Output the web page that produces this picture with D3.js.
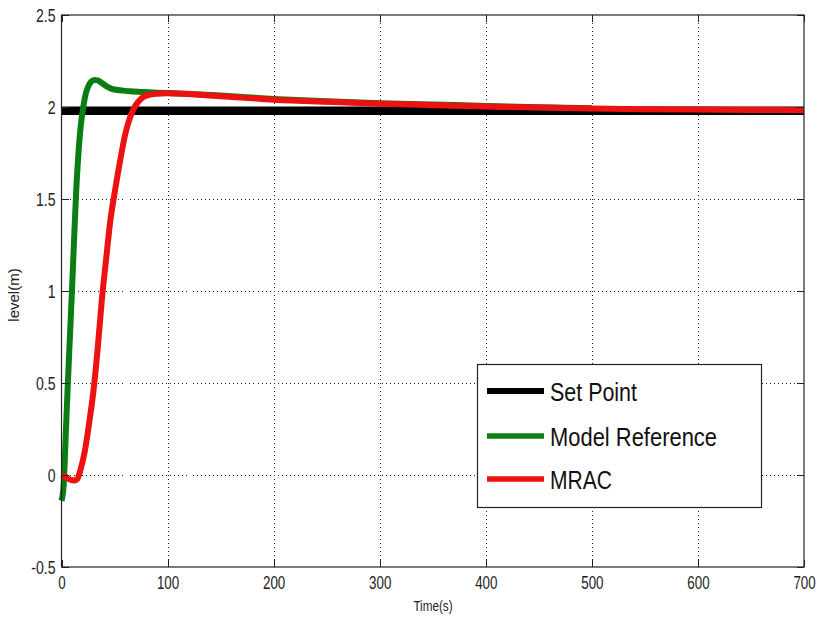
<!DOCTYPE html>
<html>
<head>
<meta charset="utf-8">
<script src="https://cdn.jsdelivr.net/npm/d3@7"></script>
<style>
  html, body { margin: 0; padding: 0; background: #fff; }
  svg { display: block; font-family: "Liberation Sans", Arial, sans-serif; }
</style>
</head>
<body>
<svg id="chart" width="821" height="618"></svg>
<script>
// Time axis (s) and measured levels (m)
const setPointTime = [0, 700];
const setPointLevel = [1.98, 1.98];

const modelTime = [0, 2, 4, 6, 8, 10, 12, 14, 16, 18, 20, 22, 25, 28, 31, 34, 37, 40, 45, 50, 57, 65, 75, 90, 100, 150, 200, 250, 300, 350, 400, 450, 500];
const modelLevel = [-0.14, -0.06, 0.22, 0.5, 0.76, 1.02, 1.3, 1.56, 1.75, 1.89, 1.98, 2.05, 2.11, 2.138, 2.147, 2.145, 2.135, 2.122, 2.105, 2.095, 2.09, 2.085, 2.082, 2.078, 2.076, 2.062, 2.044, 2.031, 2.021, 2.013, 2.006, 1.999, 1.993];

const mracTime = [0, 4, 8, 12, 15, 18, 22, 26, 30, 34, 38, 42, 46, 50, 55, 60, 65, 70, 75, 80, 90, 100, 150, 200, 250, 300, 350, 400, 450, 500, 550, 600, 650, 700];
const mracLevel = [0, -0.01, -0.025, -0.03, -0.02, 0.03, 0.13, 0.28, 0.45, 0.68, 0.95, 1.17, 1.38, 1.53, 1.7, 1.85, 1.95, 2.01, 2.045, 2.062, 2.072, 2.075, 2.058, 2.04, 2.028, 2.018, 2.01, 2.003, 1.997, 1.992, 1.988, 1.986, 1.984, 1.983];

const xTicks = [0, 100, 200, 300, 400, 500, 600, 700];
const yTicks = [-0.5, 0, 0.5, 1, 1.5, 2, 2.5];
const xGrid = [100, 200, 300, 400, 500, 600];
const yGrid = [0, 0.5, 1, 1.5, 2];

const seriesNames = ["Set Point", "Model Reference", "MRAC"];
const seriesColors = ["#000000", "#0b7d12", "#ee1111"];

const svg = d3.select("#chart");
const plotLeft = 61.5, plotTop = 15, plotRight = 804, plotBottom = 567;

const x = d3.scaleLinear().domain([0, 700]).range([plotLeft, plotRight]);
const y = d3.scaleLinear().domain([-0.5, 2.5]).range([plotBottom, plotTop]);

// dotted grid
const grid = svg.append("g").attr("stroke", "#222").attr("stroke-width", 1)
  .attr("stroke-dasharray", "1,3").attr("shape-rendering", "crispEdges");
grid.selectAll(".gx").data(xGrid).join("line")
  .attr("x1", d => Math.round(x(d)) + 0.5).attr("x2", d => Math.round(x(d)) + 0.5)
  .attr("y1", plotTop).attr("y2", plotBottom);
grid.selectAll(".gy").data(yGrid).join("line")
  .attr("y1", d => Math.round(y(d)) + 0.5).attr("y2", d => Math.round(y(d)) + 0.5)
  .attr("x1", plotLeft).attr("x2", plotRight);

// series lines
const line = d3.line().x(d => x(d[0])).y(d => y(d[1])).curve(d3.curveMonotoneX);
const series = [
  { t: setPointTime, v: setPointLevel, w: 8.5 },
  { t: modelTime, v: modelLevel, w: 6 },
  { t: mracTime, v: mracLevel, w: 6 }
];
const plot = svg.append("g");
series.forEach((s, i) => {
  plot.append("path")
    .datum(d3.zip(s.t, s.v))
    .attr("fill", "none")
    .attr("stroke", seriesColors[i])
    .attr("stroke-width", s.w)
    .attr("stroke-linejoin", "round")
    .attr("d", line);
});

// axes with inward ticks on all four sides
function styleAxis(g) {
  g.select(".domain").remove();
  g.selectAll(".tick line").attr("stroke", "#222").attr("shape-rendering", "crispEdges");
}
const axB = svg.append("g").attr("transform", `translate(0,${plotBottom})`)
  .call(d3.axisBottom(x).tickValues(xTicks).tickSize(-7).tickPadding(9).tickFormat(d3.format("d")));
const axL = svg.append("g").attr("transform", `translate(${plotLeft},0)`)
  .call(d3.axisLeft(y).tickValues(yTicks).tickSize(-7).tickPadding(6).tickFormat(d => String(d)));
const axT = svg.append("g").attr("transform", `translate(0,${plotTop})`)
  .call(d3.axisTop(x).tickValues(xTicks).tickSize(-7).tickFormat(""));
const axR = svg.append("g").attr("transform", `translate(${plotRight},0)`)
  .call(d3.axisRight(y).tickValues(yTicks).tickSize(-7).tickFormat(""));
[axB, axL, axT, axR].forEach(styleAxis);

// plot box
svg.append("rect")
  .attr("x", plotLeft).attr("y", plotTop).attr("width", plotRight - plotLeft).attr("height", plotBottom - plotTop)
  .attr("fill", "none").attr("stroke", "#222").attr("stroke-width", 1.2);

function condense(sel, ratio) {
  sel.each(function () {
    const w = this.getComputedTextLength();
    d3.select(this).attr("textLength", w * ratio).attr("lengthAdjust", "spacingAndGlyphs");
  });
}

axB.selectAll(".tick text").attr("font-size", 18).attr("fill", "#222")
  .attr("font-family", "Liberation Sans, Arial, sans-serif").attr("dy", "0.72em");
axL.selectAll(".tick text").attr("font-size", 18).attr("fill", "#222")
  .attr("font-family", "Liberation Sans, Arial, sans-serif").attr("dy", "0.36em");
condense(axB.selectAll(".tick text"), 0.74);
condense(axL.selectAll(".tick text"), 0.78);

// axis titles
const xt = svg.append("text").attr("x", 433).attr("y", 611).attr("text-anchor", "middle")
  .attr("font-size", 15).attr("fill", "#222").text("Time(s)");
condense(xt, 0.78);
svg.append("text").attr("transform", "translate(19,295) rotate(-90)").attr("text-anchor", "middle")
  .attr("font-size", 15).attr("fill", "#222").text("level(m)");

// legend
const lg = svg.append("g");
lg.append("rect").attr("x", 477.5).attr("y", 364.5).attr("width", 284).attr("height", 143)
  .attr("fill", "#fff").attr("stroke", "#222").attr("stroke-width", 1.2);
const rowY = [391, 436, 479];
const legendW = [6, 5.5, 5.5];
const textW = [87, 167, 62];
seriesNames.forEach((name, i) => {
  lg.append("line").attr("x1", 487).attr("x2", 544).attr("y1", rowY[i]).attr("y2", rowY[i])
    .attr("stroke", seriesColors[i]).attr("stroke-width", legendW[i]);
  lg.append("text").attr("x", 550).attr("y", rowY[i] + 9.5).attr("font-size", 25)
    .attr("fill", "#111").attr("textLength", textW[i]).attr("lengthAdjust", "spacingAndGlyphs")
    .text(name);
});
</script>
</body>
</html>
